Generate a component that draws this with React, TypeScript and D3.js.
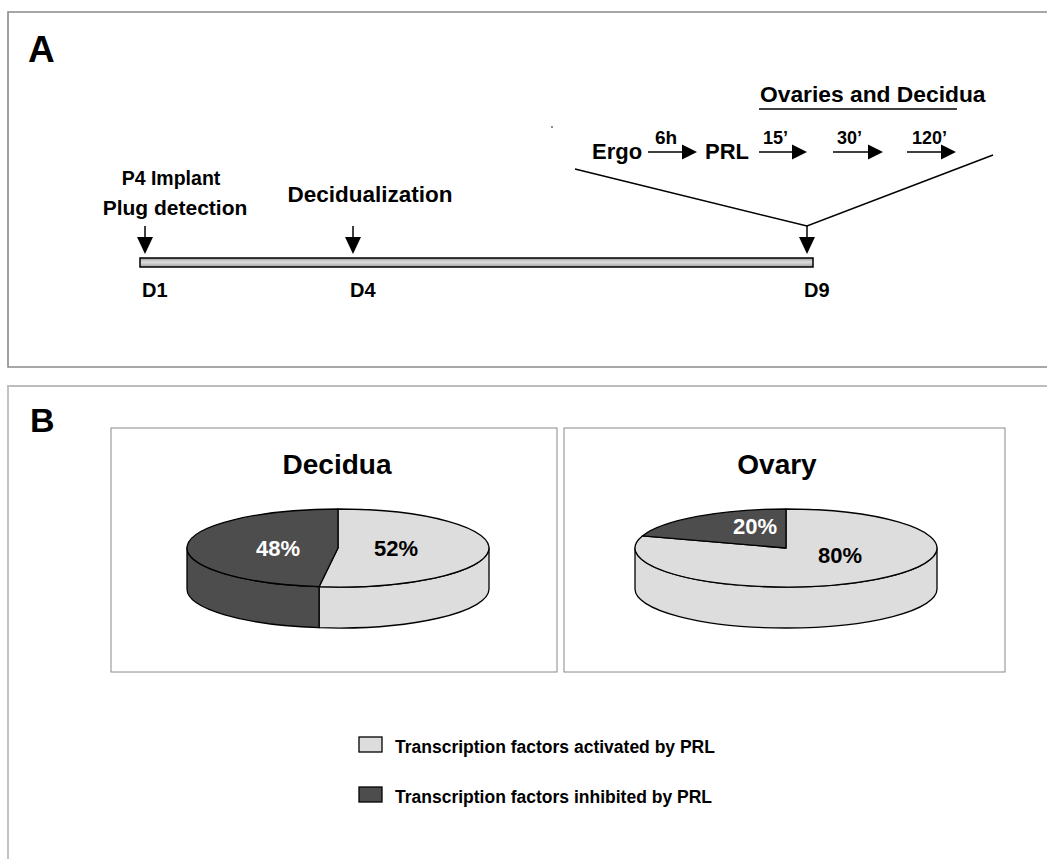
import React from "react";
import * as d3 from "d3";

// ---------- data ----------
const pieTitles = ["Decidua", "Ovary"];
const activatedPct = [52, 80];
const inhibitedPct = [48, 20];
const legendLabels = [
  "Transcription factors activated by PRL",
  "Transcription factors inhibited by PRL",
];
const dayLabels = ["D1", "D4", "D9"];
const dayValues = [1, 4, 9];
const dayEvents = [["P4 Implant", "Plug detection"], ["Decidualization"], []];
const protocolSteps = ["Ergo", "PRL"];
const protocolTimes = ["6h", "15\u2019", "30\u2019", "120\u2019"];
const protocolTitle = "Ovaries and Decidua";

const FONT = "'Liberation Sans', Arial, Helvetica, sans-serif";
const LIGHT = "#dddddd";
const DARK = "#4d4d4d";

function Arrow({ x1, y1, x2, y2, head = 15, hw = 8 }) {
  const dx = x2 - x1, dy = y2 - y1;
  const len = Math.hypot(dx, dy);
  const ux = dx / len, uy = dy / len;
  const bx = x2 - ux * head, by = y2 - uy * head;
  const px = -uy * hw, py = ux * hw;
  return (
    <g>
      <line x1={x1} y1={y1} x2={bx} y2={by} stroke="#000" strokeWidth={1.5} />
      <path d={`M${x2},${y2}L${bx + px},${by + py}L${bx - px},${by - py}Z`} fill="#000" />
    </g>
  );
}

function Pie3D({ cx, cy, rx, ry, depth, values, colors, labels, labelPos, labelColors }) {
  const arcs = d3.pie().sort(null).value((d) => d)(values);
  const pt = (a, yOff = 0) => [cx + rx * Math.sin(a), cy - ry * Math.cos(a) + yOff];
  const sides = [];
  arcs.forEach((a, i) => {
    const s = Math.max(a.startAngle, Math.PI / 2);
    const e = Math.min(a.endAngle, (3 * Math.PI) / 2);
    if (e > s) {
      const [sx, sy] = pt(s);
      const [ex, ey] = pt(e);
      const d = `M${sx},${sy}A${rx},${ry} 0 0 1 ${ex},${ey}L${ex},${ey + depth}A${rx},${ry} 0 0 0 ${sx},${sy + depth}Z`;
      sides.push(<path key={"s" + i} d={d} fill={colors[i]} stroke="#000" strokeWidth={1.3} strokeLinejoin="round" />);
    }
  });
  const tops = arcs.map((a, i) => {
    const [sx, sy] = pt(a.startAngle);
    const [ex, ey] = pt(a.endAngle);
    const large = a.endAngle - a.startAngle > Math.PI ? 1 : 0;
    const d = `M${cx},${cy}L${sx},${sy}A${rx},${ry} 0 ${large} 1 ${ex},${ey}Z`;
    return <path key={"t" + i} d={d} fill={colors[i]} stroke="#000" strokeWidth={1.3} strokeLinejoin="round" />;
  });
  return (
    <g>
      {sides}
      {tops}
      {labels.map((l, i) => (
        <text key={"l" + i} x={labelPos[i][0]} y={labelPos[i][1]} textAnchor="middle" fontSize={22}
          fontWeight="bold" fontFamily={FONT} fill={labelColors[i]}>{l}</text>
      ))}
    </g>
  );
}

export default function App() {
  const W = 1047, H = 859;
  const dayX = d3.scaleLinear().domain(dayValues).range([145, 353, 807]);
  const barY0 = 258, barY1 = 267;
  const apex = [dayX(9), 226];

  const arrowXs = [[648, 697], [759, 807], [833, 883], [907, 956]];
  const timeX = [655, 763, 837, 912];
  const stepX = [592, 705];

  const pieBoxes = [
    { x0: 111, y0: 428, x1: 557, y1: 672, cx: 338, tx: 337 },
    { x0: 564, y0: 428, x1: 1005, y1: 672, cx: 786, tx: 777 },
  ];
  const pieLabelPos = [
    [[396, 556], [278, 556]],
    [[840, 563], [755, 534]],
  ];

  return (
    <svg width={W} height={H} style={{ position: "absolute", left: 0, top: 0, background: "#fff" }}
      fontFamily={FONT}>
      <defs>
        <linearGradient id="barGrad" x1="0" y1="0" x2="0" y2="1">
          <stop offset="0" stopColor="#9a9a9a" />
          <stop offset="0.45" stopColor="#dedede" />
          <stop offset="1" stopColor="#a0a0a0" />
        </linearGradient>
      </defs>
      <rect x={0} y={0} width={W} height={H} fill="#fff" />
      {/* Panel A frame */}
      <path d={`M${W + 5},12H8V367H${W + 5}`} fill="none" stroke="#8a8a8a" strokeWidth={1.6} />
      {/* Panel B frame */}
      <path d={`M${W + 5},386H8V${H + 5}`} fill="none" stroke="#bdbdbd" strokeWidth={1.8} />

      <text x={28} y={62} fontSize={37} fontWeight="bold">A</text>
      <text x={30} y={432} fontSize={34} fontWeight="bold">B</text>

      {/* timeline bar */}
      <rect x={140} y={barY0} width={673} height={barY1 - barY0} fill="url(#barGrad)" stroke="#000" strokeWidth={1.5} />
      {dayLabels.map((d, i) => (
        <text key={d} x={dayX(dayValues[i]) - 3} y={297} fontSize={20} fontWeight="bold">{d}</text>
      ))}
      {dayValues.map((v, i) => (
        <Arrow key={"da" + i} x1={dayX(v)} y1={226} x2={dayX(v)} y2={254} head={17} hw={8} />
      ))}
      <text x={dayX(1) + 26} y={185} fontSize={19.5} fontWeight="bold" textAnchor="middle">{dayEvents[0][0]}</text>
      <text x={dayX(1) + 30} y={215} fontSize={21} fontWeight="bold" textAnchor="middle">{dayEvents[0][1]}</text>
      <text x={dayX(4) + 17} y={202} fontSize={22.5} fontWeight="bold" textAnchor="middle">{dayEvents[1][0]}</text>

      {/* V lines */}
      <polyline points={`575,169 ${apex[0]},${apex[1]} 993,155`} fill="none" stroke="#000" strokeWidth={1.5} />
      <circle cx={552} cy={127} r={0.9} fill="#555" />

      {/* protocol row */}
      {protocolSteps.map((s, i) => (
        <text key={s} x={stepX[i]} y={159} fontSize={22} fontWeight="bold">{s}</text>
      ))}
      {protocolTimes.map((t, i) => (
        <text key={"t" + i} x={timeX[i]} y={144} fontSize={i === 0 ? 19 : 18} fontWeight="bold">{t}</text>
      ))}
      {arrowXs.map(([a, b], i) => (
        <Arrow key={"pa" + i} x1={a} y1={152} x2={b} y2={152} head={15} hw={7.5} />
      ))}
      <text x={760} y={102} fontSize={22.8} fontWeight="bold">{protocolTitle}</text>
      <line x1={759} y1={109} x2={957} y2={109} stroke="#000" strokeWidth={1.5} />

      {/* pie panels */}
      {pieBoxes.map((b, i) => (
        <g key={"pb" + i}>
          <rect x={b.x0} y={b.y0} width={b.x1 - b.x0} height={b.y1 - b.y0} fill="#fff" stroke="#8a8a8a" strokeWidth={1} />
          <text x={b.tx} y={474} fontSize={28} fontWeight="bold" textAnchor="middle">{pieTitles[i]}</text>
          <Pie3D cx={b.cx} cy={548} rx={151} ry={39} depth={41}
            values={[activatedPct[i], inhibitedPct[i]]}
            colors={[LIGHT, DARK]}
            labels={[`${activatedPct[i]}%`, `${inhibitedPct[i]}%`]}
            labelPos={pieLabelPos[i]}
            labelColors={["#000", "#fff"]} />
        </g>
      ))}

      {/* legend */}
      {legendLabels.map((l, i) => (
        <g key={"lg" + i}>
          <rect x={359} y={737 + i * 50} width={23} height={15} fill={i === 0 ? LIGHT : DARK} stroke="#000" strokeWidth={1.3} />
          <text x={395} y={753 + i * 50} fontSize={17.5} fontWeight="bold">{l}</text>
        </g>
      ))}
    </svg>
  );
}
